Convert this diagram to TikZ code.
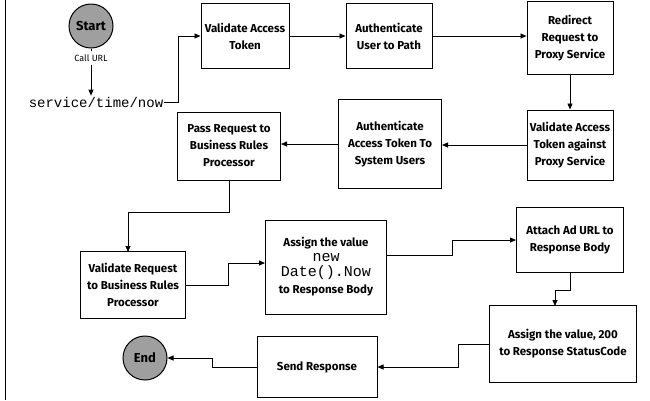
\documentclass[tikz,border=0pt]{standalone}
\usepackage{fontspec}
\setmainfont{Fira Sans}
\setmonofont{Liberation Mono}
\usetikzlibrary{arrows.meta}
\begin{document}
\begin{tikzpicture}[x=1pt,y=-1pt,
  box/.style={draw,line width=1pt,align=center,font=\bfseries\fontsize{11.5}{17}\selectfont,inner sep=2pt},
  term/.style={draw,line width=1pt,circle,fill=gray!75,minimum size=44pt,font=\bfseries\fontsize{13}{15}\selectfont},
  conn/.style={line width=0.8pt,-{Triangle[length=6pt,width=5pt]}}]
\useasboundingbox (0,0) rectangle (650,400);
\draw[line width=1pt] (5,0) -- (5,400);
\node[term] (start) at (91,26) {Start};
\node[font=\fontsize{9}{10}\selectfont] (call) at (91,58) {Call URL};
\node[font=\ttfamily\fontsize{14}{15}\selectfont,inner sep=1pt] (svc) at (96,102) {service/time/now};
\draw[line width=0.8pt] (start) -- (call);
\draw[conn] (call.south) -- (call.south |- svc.north);
\node[box,minimum width=88pt,minimum height=65pt] (va) at (245,36) {Validate Access\\Token};
\node[box,minimum width=86pt,minimum height=65pt] (au) at (389,36) {Authenticate\\User to Path};
\node[box,minimum width=86pt,minimum height=73pt] (rr) at (570,38) {Redirect\\Request to\\Proxy Service};
\node[box,minimum width=86pt,minimum height=70pt] (vp) at (570,145) {Validate Access\\Token against\\Proxy Service};
\node[box,minimum width=103pt,minimum height=89pt] (as) at (390,144) {Authenticate\\Access Token To\\System Users};
\node[box,minimum width=103pt,minimum height=68pt] (pr) at (229,146) {Pass Request to\\Business Rules\\Processor};
\node[box,minimum width=105pt,minimum height=67pt] (vr) at (133,285) {Validate Request\\to Business Rules\\Processor};
\node[box,minimum width=121pt,minimum height=94pt] (nd) at (326,267) {Assign the value\\[-2pt]{\mdseries\ttfamily\fontsize{15}{16}\selectfont new}\\[-2pt]{\mdseries\ttfamily\fontsize{15}{16}\selectfont Date().Now}\\to Response Body};
\node[box,minimum width=107pt,minimum height=65pt] (ad) at (570,240) {Attach Ad URL to\\Response Body};
\node[box,minimum width=147pt,minimum height=77pt] (sc) at (563,344) {Assign the value, 200\\to Response StatusCode};
\node[box,minimum width=120pt,minimum height=61pt] (sr) at (317,367) {Send Response};
\node[term] (end) at (145,358) {End};
\draw[conn] (svc.east) -- (178,102) |- (va.west);
\draw[conn] (va) -- (au);
\draw[conn] (au.east) -- (rr.west |- au.east);
\draw[conn] (rr) -- (vp);
\draw[conn] (vp) -- (vp -| as.east);
\draw[conn] (as.west) -- (pr.east |- as.west);
\draw[conn] (pr.south) -- ++(0,32) -| (128,252);
\draw[conn] (vr.east) -- (228,285) |- (nd.west |- 0,263);
\draw[conn] (nd.east |- 0,255) -- (452,255) |- (ad.west);
\draw[conn] (ad.south) -- ++(0,17) -| (555,306);
\draw[conn] (sc.west) -- (458,344) |- (sr.east);
\draw[conn] (sr.west) -- (212,367) |- (end.east);
\end{tikzpicture}
\end{document}
